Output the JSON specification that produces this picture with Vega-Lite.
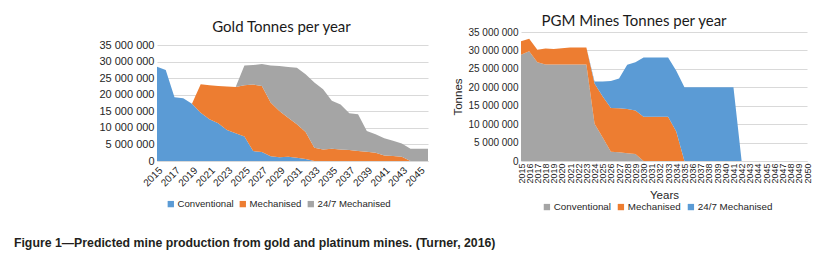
{
  "$schema": "https://vega.github.io/schema/vega-lite/v6.json",
  "padding": {"left": 13, "top": 14, "right": 0, "bottom": 0},
  "background": "white",
  "config": {
    "locale": {"number": {"decimal": ".", "thousands": " ", "grouping": [3], "currency": ["", ""]}},
    "view": {"stroke": null},
    "font": "Liberation Sans",
    "axis": {"labelFont": "Liberation Sans", "labelColor": "#262626", "titleFont": "Liberation Sans", "titleColor": "#262626", "titleFontWeight": "normal"},
    "legend": {"labelFont": "Liberation Sans", "labelColor": "#262626"}
  },
  "title": {
    "text": "Figure 1\u2014Predicted mine production from gold and platinum mines. (Turner, 2016)",
    "orient": "bottom", "anchor": "start", "font": "Liberation Sans", "fontSize": 12.3, "fontWeight": "bold",
    "color": "#231f20", "dx": -85, "offset": 25
  },
  "datasets": {
    "gold": [
      {"year": 2015, "type": "Conventional", "tonnes": 28500000},
      {"year": 2016, "type": "Conventional", "tonnes": 27500000},
      {"year": 2017, "type": "Conventional", "tonnes": 19300000},
      {"year": 2018, "type": "Conventional", "tonnes": 19000000},
      {"year": 2019, "type": "Conventional", "tonnes": 17300000},
      {"year": 2020, "type": "Conventional", "tonnes": 14600000},
      {"year": 2021, "type": "Conventional", "tonnes": 12600000},
      {"year": 2022, "type": "Conventional", "tonnes": 11400000},
      {"year": 2023, "type": "Conventional", "tonnes": 9400000},
      {"year": 2024, "type": "Conventional", "tonnes": 8400000},
      {"year": 2025, "type": "Conventional", "tonnes": 7400000},
      {"year": 2026, "type": "Conventional", "tonnes": 3000000},
      {"year": 2027, "type": "Conventional", "tonnes": 2700000},
      {"year": 2028, "type": "Conventional", "tonnes": 1400000},
      {"year": 2029, "type": "Conventional", "tonnes": 1100000},
      {"year": 2030, "type": "Conventional", "tonnes": 1300000},
      {"year": 2031, "type": "Conventional", "tonnes": 1000000},
      {"year": 2032, "type": "Conventional", "tonnes": 600000},
      {"year": 2033, "type": "Conventional", "tonnes": 0},
      {"year": 2019, "type": "Mechanised", "tonnes": 0},
      {"year": 2020, "type": "Mechanised", "tonnes": 8600000},
      {"year": 2021, "type": "Mechanised", "tonnes": 10300000},
      {"year": 2022, "type": "Mechanised", "tonnes": 11300000},
      {"year": 2023, "type": "Mechanised", "tonnes": 13100000},
      {"year": 2024, "type": "Mechanised", "tonnes": 14000000},
      {"year": 2025, "type": "Mechanised", "tonnes": 15500000},
      {"year": 2026, "type": "Mechanised", "tonnes": 20100000},
      {"year": 2027, "type": "Mechanised", "tonnes": 20000000},
      {"year": 2028, "type": "Mechanised", "tonnes": 16300000},
      {"year": 2029, "type": "Mechanised", "tonnes": 14000000},
      {"year": 2030, "type": "Mechanised", "tonnes": 11800000},
      {"year": 2031, "type": "Mechanised", "tonnes": 10100000},
      {"year": 2032, "type": "Mechanised", "tonnes": 8200000},
      {"year": 2033, "type": "Mechanised", "tonnes": 4000000},
      {"year": 2034, "type": "Mechanised", "tonnes": 3500000},
      {"year": 2035, "type": "Mechanised", "tonnes": 3700000},
      {"year": 2036, "type": "Mechanised", "tonnes": 3500000},
      {"year": 2037, "type": "Mechanised", "tonnes": 3300000},
      {"year": 2038, "type": "Mechanised", "tonnes": 3000000},
      {"year": 2039, "type": "Mechanised", "tonnes": 2800000},
      {"year": 2040, "type": "Mechanised", "tonnes": 2500000},
      {"year": 2041, "type": "Mechanised", "tonnes": 1700000},
      {"year": 2042, "type": "Mechanised", "tonnes": 1500000},
      {"year": 2043, "type": "Mechanised", "tonnes": 1300000},
      {"year": 2044, "type": "Mechanised", "tonnes": 0},
      {"year": 2024, "type": "24/7 Mechanised", "tonnes": 0},
      {"year": 2025, "type": "24/7 Mechanised", "tonnes": 6000000},
      {"year": 2026, "type": "24/7 Mechanised", "tonnes": 5900000},
      {"year": 2027, "type": "24/7 Mechanised", "tonnes": 6600000},
      {"year": 2028, "type": "24/7 Mechanised", "tonnes": 11200000},
      {"year": 2029, "type": "24/7 Mechanised", "tonnes": 13600000},
      {"year": 2030, "type": "24/7 Mechanised", "tonnes": 15300000},
      {"year": 2031, "type": "24/7 Mechanised", "tonnes": 17100000},
      {"year": 2032, "type": "24/7 Mechanised", "tonnes": 17400000},
      {"year": 2033, "type": "24/7 Mechanised", "tonnes": 19700000},
      {"year": 2034, "type": "24/7 Mechanised", "tonnes": 18200000},
      {"year": 2035, "type": "24/7 Mechanised", "tonnes": 14500000},
      {"year": 2036, "type": "24/7 Mechanised", "tonnes": 13600000},
      {"year": 2037, "type": "24/7 Mechanised", "tonnes": 11100000},
      {"year": 2038, "type": "24/7 Mechanised", "tonnes": 11100000},
      {"year": 2039, "type": "24/7 Mechanised", "tonnes": 6300000},
      {"year": 2040, "type": "24/7 Mechanised", "tonnes": 5600000},
      {"year": 2041, "type": "24/7 Mechanised", "tonnes": 5200000},
      {"year": 2042, "type": "24/7 Mechanised", "tonnes": 4600000},
      {"year": 2043, "type": "24/7 Mechanised", "tonnes": 4000000},
      {"year": 2044, "type": "24/7 Mechanised", "tonnes": 3700000},
      {"year": 2045, "type": "24/7 Mechanised", "tonnes": 3700000},
      {"year": 2046, "type": "24/7 Mechanised", "tonnes": 3700000}
    ],
    "pgm": [
      {"year": 2015, "type": "Conventional", "tonnes": 28800000},
      {"year": 2016, "type": "Conventional", "tonnes": 29800000},
      {"year": 2017, "type": "Conventional", "tonnes": 26800000},
      {"year": 2018, "type": "Conventional", "tonnes": 26200000},
      {"year": 2019, "type": "Conventional", "tonnes": 26200000},
      {"year": 2020, "type": "Conventional", "tonnes": 26200000},
      {"year": 2021, "type": "Conventional", "tonnes": 26200000},
      {"year": 2022, "type": "Conventional", "tonnes": 26200000},
      {"year": 2023, "type": "Conventional", "tonnes": 26200000},
      {"year": 2024, "type": "Conventional", "tonnes": 10100000},
      {"year": 2025, "type": "Conventional", "tonnes": 6400000},
      {"year": 2026, "type": "Conventional", "tonnes": 2500000},
      {"year": 2027, "type": "Conventional", "tonnes": 2400000},
      {"year": 2028, "type": "Conventional", "tonnes": 2100000},
      {"year": 2029, "type": "Conventional", "tonnes": 1900000},
      {"year": 2030, "type": "Conventional", "tonnes": 0},
      {"year": 2015, "type": "Mechanised", "tonnes": 3700000},
      {"year": 2016, "type": "Mechanised", "tonnes": 3400000},
      {"year": 2017, "type": "Mechanised", "tonnes": 3400000},
      {"year": 2018, "type": "Mechanised", "tonnes": 4300000},
      {"year": 2019, "type": "Mechanised", "tonnes": 4200000},
      {"year": 2020, "type": "Mechanised", "tonnes": 4400000},
      {"year": 2021, "type": "Mechanised", "tonnes": 4600000},
      {"year": 2022, "type": "Mechanised", "tonnes": 4600000},
      {"year": 2023, "type": "Mechanised", "tonnes": 4600000},
      {"year": 2024, "type": "Mechanised", "tonnes": 10900000},
      {"year": 2025, "type": "Mechanised", "tonnes": 11100000},
      {"year": 2026, "type": "Mechanised", "tonnes": 11900000},
      {"year": 2027, "type": "Mechanised", "tonnes": 11900000},
      {"year": 2028, "type": "Mechanised", "tonnes": 12000000},
      {"year": 2029, "type": "Mechanised", "tonnes": 11800000},
      {"year": 2030, "type": "Mechanised", "tonnes": 12000000},
      {"year": 2031, "type": "Mechanised", "tonnes": 12000000},
      {"year": 2032, "type": "Mechanised", "tonnes": 12000000},
      {"year": 2033, "type": "Mechanised", "tonnes": 12000000},
      {"year": 2034, "type": "Mechanised", "tonnes": 8000000},
      {"year": 2035, "type": "Mechanised", "tonnes": 0},
      {"year": 2023, "type": "24/7 Mechanised", "tonnes": 0},
      {"year": 2024, "type": "24/7 Mechanised", "tonnes": 600000},
      {"year": 2025, "type": "24/7 Mechanised", "tonnes": 4100000},
      {"year": 2026, "type": "24/7 Mechanised", "tonnes": 7300000},
      {"year": 2027, "type": "24/7 Mechanised", "tonnes": 8100000},
      {"year": 2028, "type": "24/7 Mechanised", "tonnes": 12000000},
      {"year": 2029, "type": "24/7 Mechanised", "tonnes": 13100000},
      {"year": 2030, "type": "24/7 Mechanised", "tonnes": 16100000},
      {"year": 2031, "type": "24/7 Mechanised", "tonnes": 16100000},
      {"year": 2032, "type": "24/7 Mechanised", "tonnes": 16100000},
      {"year": 2033, "type": "24/7 Mechanised", "tonnes": 16100000},
      {"year": 2034, "type": "24/7 Mechanised", "tonnes": 16500000},
      {"year": 2035, "type": "24/7 Mechanised", "tonnes": 20000000},
      {"year": 2036, "type": "24/7 Mechanised", "tonnes": 20000000},
      {"year": 2037, "type": "24/7 Mechanised", "tonnes": 20000000},
      {"year": 2038, "type": "24/7 Mechanised", "tonnes": 20000000},
      {"year": 2039, "type": "24/7 Mechanised", "tonnes": 20000000},
      {"year": 2040, "type": "24/7 Mechanised", "tonnes": 20000000},
      {"year": 2041, "type": "24/7 Mechanised", "tonnes": 20000000},
      {"year": 2042, "type": "24/7 Mechanised", "tonnes": 0}
    ]
  },
  "resolve": {"scale": {"color": "independent", "x": "independent", "y": "independent"}, "legend": {"color": "independent"}},
  "spacing": 24,
  "hconcat": [
    {
      "width": 271, "height": 129,
      "title": {"text": "Gold Tonnes per year", "font": "Lato", "fontSize": 15, "fontWeight": "normal", "color": "#1a1a1a", "offset": -3, "dx": -11},
      "data": {"name": "gold"},
      "transform": [{"calculate": "indexof(['Conventional','Mechanised','24/7 Mechanised'], datum.type)", "as": "k"}],
      "mark": {"type": "area", "interpolate": "linear", "opacity": 1},
      "encoding": {
        "x": {"field": "year", "type": "quantitative",
              "scale": {"domain": [2015, 2046], "nice": false, "zero": false},
              "axis": {"values": [2015,2017,2019,2021,2023,2025,2027,2029,2031,2033,2035,2037,2039,2041,2043,2045],
                       "format": "d", "labelAngle": -45, "title": null, "grid": false, "ticks": false, "labelOverlap": false,
                       "domainColor": "#d9d9d9", "labelFontSize": 10, "labelPadding": 4}},
        "y": {"field": "tonnes", "type": "quantitative", "stack": "zero",
              "scale": {"domain": [0, 39000000], "nice": false},
              "axis": {"values": [0,5000000,10000000,15000000,20000000,25000000,30000000,35000000],
                       "format": ",d", "title": null, "domain": false, "ticks": false, "gridColor": "#d9d9d9",
                       "labelFontSize": 11, "labelPadding": 3}},
        "color": {"field": "type", "type": "nominal",
                  "scale": {"domain": ["Conventional", "Mechanised", "24/7 Mechanised"], "range": ["#5B9BD5", "#ED7D31", "#A5A5A5"]},
                  "legend": {"orient": "none", "legendX": 9, "legendY": 167, "direction": "horizontal", "title": null, "symbolType": "square",
                             "symbolSize": 40, "symbolStrokeWidth": 0, "labelFontSize": 9.6, "labelOffset": 2, "columnPadding": 4}},
        "order": {"field": "k", "type": "quantitative"}
      }
    },
    {
      "width": 286, "height": 129,
      "title": {"text": "PGM Mines Tonnes per year", "font": "Lato", "fontSize": 15, "fontWeight": "normal", "color": "#1a1a1a", "offset": -2, "dx": -30},
      "data": {"name": "pgm"},
      "transform": [{"calculate": "indexof(['Conventional','Mechanised','24/7 Mechanised'], datum.type)", "as": "k"}],
      "mark": {"type": "area", "interpolate": "linear", "opacity": 1},
      "encoding": {
        "x": {"field": "year", "type": "quantitative",
              "scale": {"domain": [2015, 2050], "nice": false, "zero": false},
              "axis": {"values": [2015,2016,2017,2018,2019,2020,2021,2022,2023,2024,2025,2026,2027,2028,2029,2030,2031,2032,2033,2034,2035,2036,2037,2038,2039,2040,2041,2042,2043,2044,2045,2046,2047,2048,2049,2050],
                       "format": "d", "labelAngle": -90, "title": "Years", "titleFontSize": 11.5, "titlePadding": 6, "grid": false, "ticks": false,
                       "domainColor": "#d9d9d9", "labelFontSize": 9, "labelPadding": 2, "labelOverlap": false}},
        "y": {"field": "tonnes", "type": "quantitative", "stack": "zero",
              "scale": {"domain": [0, 35000000], "nice": false},
              "axis": {"values": [0,5000000,10000000,15000000,20000000,25000000,30000000,35000000],
                       "format": ",d", "title": "Tonnes", "titleFontSize": 11.5, "titlePadding": 4, "domain": false, "ticks": false, "gridColor": "#d9d9d9",
                       "labelFontSize": 10, "labelPadding": 3}},
        "color": {"field": "type", "type": "nominal",
                  "scale": {"domain": ["Conventional", "Mechanised", "24/7 Mechanised"], "range": ["#A5A5A5", "#ED7D31", "#5B9BD5"]},
                  "legend": {"orient": "none", "legendX": 21, "legendY": 170, "direction": "horizontal", "title": null, "symbolType": "square",
                             "symbolSize": 40, "symbolStrokeWidth": 0, "labelFontSize": 9.8, "labelOffset": 2, "columnPadding": 5}},
        "order": {"field": "k", "type": "quantitative"}
      }
    }
  ]
}
